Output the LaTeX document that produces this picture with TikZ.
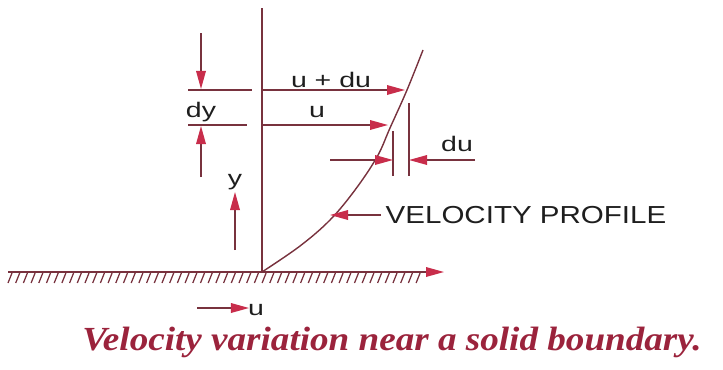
\documentclass[tikz,border=0pt]{standalone}
\usepackage{fontspec}
\setmainfont{Liberation Serif}
\newfontfamily\lblfont[FakeStretch=1.35]{Liberation Sans}
\newfontfamily\vpfont[FakeStretch=1.2]{Liberation Sans}
\newfontfamily\capfont[FakeStretch=1.1]{Liberation Serif}
\usetikzlibrary{arrows.meta}
\definecolor{linecol}{RGB}{120,50,62}
\definecolor{tipcol}{RGB}{200,45,75}
\definecolor{capcol}{RGB}{155,35,60}
\definecolor{txtcol}{RGB}{30,30,30}
\tikzset{
  redarrow/.style={-{Triangle[length=0.45cm,width=0.24cm,color=tipcol]}},
  lbl/.style={anchor=base,inner sep=0pt,text=txtcol,font=\lblfont\fontsize{15}{15}\selectfont},
}
\begin{document}
\begin{tikzpicture}[x=0.025cm,y=-0.025cm,line width=1pt,draw=linecol]
\useasboundingbox (0,0) rectangle (723,369);
% wall and axis
\coordinate (O) at (262,272);
\coordinate (top) at (262,8);
\coordinate (gl) at (8,272);
\coordinate (gr) at (444,272);
\draw[linecol,line width=1.2pt] (O) -- (top);
\draw[linecol,redarrow] (gl) -- (gr);
\foreach \i in {0,...,53}
  \draw[linecol,line width=0.9pt] (12+\i*7.7,273) -- ++(-4,10);
% velocity profile
\draw[linecol] plot[smooth,tension=0.6] coordinates {(262,272) (300,246) (330,220) (355,190) (377,157) (390,128) (407,90) (423,50)};
% the two layers
\coordinate (a1) at (262,90);
\coordinate (a2) at (405,90);
\coordinate (b1) at (262,125);
\coordinate (b2) at (388,125);
\draw[linecol,redarrow] (a1) -- (a2);
\draw[linecol,redarrow] (b1) -- (b2);
\node[lbl] (udu) at (331,87) {u + du};
\node[lbl] (ulbl) at (317,117) {u};
\coordinate (e1) at (188,90);
\coordinate (e2) at (252,90);
\coordinate (e3) at (188,125);
\coordinate (e4) at (247,125);
\draw[linecol] (e1) -- (e2);
\draw[linecol] (e3) -- (e4);
% dy
\coordinate (d1) at (201,33);
\coordinate (d2) at (201,89);
\coordinate (d3) at (201,177);
\coordinate (d4) at (201,126);
\draw[linecol,redarrow] (d1) -- (d2);
\draw[linecol,redarrow] (d3) -- (d4);
\node[lbl] (dy) at (201,117) {dy};
% y
\coordinate (y1) at (235,250);
\coordinate (y2) at (235,192);
\draw[linecol,redarrow] (y1) -- (y2);
\node[lbl] (ylbl) at (235,185) {y};
% du
\coordinate (v1) at (393,131);
\coordinate (v2) at (393,176);
\coordinate (w1) at (409,103);
\coordinate (w2) at (409,176);
\draw[linecol] (v1) -- (v2);
\draw[linecol] (w1) -- (w2);
\coordinate (l1) at (330,160);
\coordinate (r1) at (475,160);
\draw[linecol,redarrow] (l1) -- (v1 |- l1);
\draw[linecol,redarrow] (r1) -- (w1 |- r1);
\node[lbl] (du) at (457,151) {du};
% profile label
\node[anchor=base west,inner sep=0pt,text=txtcol,font=\vpfont\fontsize{17.5}{17.5}\selectfont] (vp) at (385,223) {VELOCITY PROFILE};
\coordinate (p1) at (330,215);
\draw[linecol,redarrow] (vp.west |- p1) ++(-4,0) -- (p1);
% moving plate
\coordinate (m1) at (197,308);
\coordinate (m2) at (249,308);
\draw[linecol,redarrow] (m1) -- (m2);
\node[lbl] (um) at (256,315) {u};
% caption
\node[anchor=base,inner sep=0pt,text=capcol,font=\capfont\bfseries\itshape\fontsize{24}{24}\selectfont] (cap) at (392,350) {Velocity variation near a solid boundary.};
\end{tikzpicture}
\end{document}
